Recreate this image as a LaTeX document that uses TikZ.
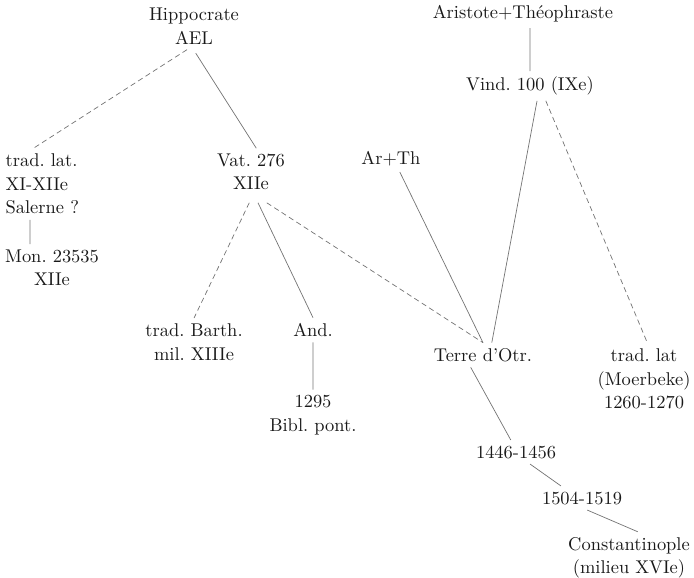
\documentclass[tikz,border=0pt]{standalone}
\usepackage{tikz}
\usepackage{xcolor}
\usetikzlibrary{positioning}
\frenchspacing

\begin{document}
\begin{tikzpicture}[
        witness/.style={align=center, inner sep=3pt, text=black!90, font=\fontsize{10.5}{13.4}\selectfont},
        filiation/.style={draw=black!55, line width=.4pt},
        contam/.style={filiation, dash pattern=on 3pt off 2pt}
    ]
        \useasboundingbox (0, 0) rectangle (13.88, -11.56);

        \node[witness] (hip) at (3.88, -.52) {Hippocrate\\AEL};
        \node[witness] (arist) at (10.46, -.28) {Aristote+Théophraste};
        \node[witness] (vind) at (10.6, -1.72) {Vind. 100 (IXe)};
        \node[witness, align=left, anchor=west] (tradlat) at (0, -3.68) {trad. lat.\\XI-XIIe\\Salerne ?};
        \node[witness] (mon) at (1.04, -5.36) {Mon. 23535\\XIIe};
        \node[witness] (vat) at (5.02, -3.44) {Vat. 276\\XIIe};
        \node[witness] (arth) at (7.82, -3.18) {Ar+Th};
        \node[witness] (barth) at (3.88, -6.84) {trad. Barth.\\mil. XIIIe};
        \node[witness] (and) at (6.26, -6.6) {And.};
        \node[witness] (bibl) at (6.26, -8.3) {1295\\Bibl. pont.};
        \node[witness] (terre) at (9.66, -7.1) {Terre d'Otr.};
        \node[witness] (moer) at (12.88, -7.58) {trad. lat\\(Moerbeke)\\1260-1270};
        \node[witness] (d1446) at (10.32, -9.04) {1446-1456};
        \node[witness] (d1504) at (11.64, -9.96) {1504-1519};
        \node[witness] (const) at (12.58, -11.16) {Constantinople\\(milieu XVIe)};

        \draw[contam] ([xshift=-4pt]hip.south) to ([xshift=-5pt]tradlat.north)
            ([xshift=-1pt, yshift=-4pt]vat.south) to (barth.north)
            ([xshift=9pt, yshift=-4pt]vat.south) to (terre.north)
            ([xshift=9pt]vind.south) to ([xshift=2pt]moer.north);
        \draw[filiation] ([xshift=1pt, yshift=-2pt]hip.south) to ([xshift=3pt]vat.north)
            (vind.north) to (vind.north |- arist.south)
            ([xshift=-7pt]tradlat.south) to ([xshift=-7pt]tradlat.south |- mon.north)
            ([xshift=4pt, yshift=-4pt]vat.south) to (and.north)
            (and.south) to (bibl.north)
            ([xshift=5pt]arth.south) to (terre.north)
            ([xshift=4pt]vind.south) to ([xshift=5pt]terre.north)
            ([xshift=-7pt]terre.south) to ([xshift=-3pt]d1446.north)
            ([xshift=8pt]d1446.south) to ([xshift=-12pt]d1504.north)
            ([xshift=3pt]d1504.south) to ([xshift=5pt]const.north);
    \end{tikzpicture}
\end{document}
